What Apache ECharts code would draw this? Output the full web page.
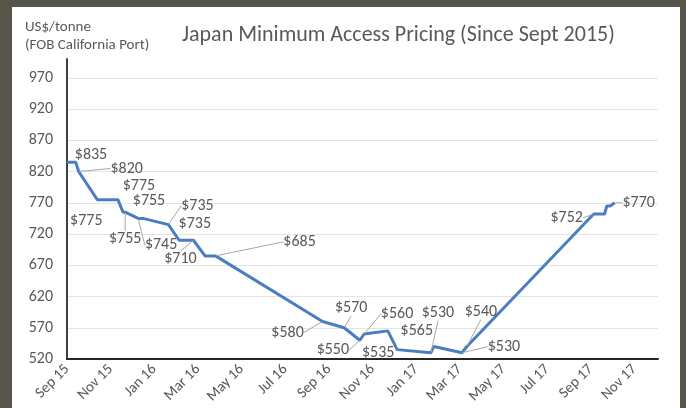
<!DOCTYPE html>
<html><head><meta charset="utf-8">
<script src="https://cdn.jsdelivr.net/npm/echarts@6/dist/echarts.min.js"></script>
<style>
html,body{margin:0;padding:0;background:#57554a;width:686px;height:408px;overflow:hidden}
#chart{position:absolute;left:12px;top:7px;width:668px;height:401px;background:#fff}
</style></head><body><div id="chart"></div>
<script>
// ---- data ----
const dates = ['2015-09-01','2015-09-13','2015-09-17','2015-10-13','2015-11-11','2015-11-18','2015-11-21',
  '2015-12-09','2015-12-16','2016-01-21','2016-01-23','2016-02-05','2016-02-24','2016-03-11','2016-03-26',
  '2016-08-23','2016-09-22','2016-10-14','2016-10-20','2016-11-22','2016-12-05','2017-01-22','2017-01-26',
  '2017-03-04','2017-03-11','2017-09-05','2017-09-20','2017-09-23','2017-09-28','2017-10-04'];
const prices = [835,835,820,775,775,755,755,745,745,735,735,710,710,685,685,
  580,570,550,560,565,535,530,540,530,540,752,752,765,765,770];
const xTickLabels = ['Sep 15','Nov 15','Jan 16','Mar 16','May 16','Jul 16','Sep 16','Nov 16',
  'Jan 17','Mar 17','May 17','Jul 17','Sep 17','Nov 17'];
const titleText = 'Japan Minimum Access Pricing (Since Sept 2015)';
const unitText = 'US$/tonne\n(FOB California Port)';

// ---- label layout (offset of label centre from its point, leader line on/off) ----
const labelLayoutMap = {
  0:[24,-7,0], 2:[48,-3,1], 3:[-11,21,0], 4:[21,-14,0], 5:[26,-11,0], 6:[0,27,1],
  7:[23,27,1], 9:[29,-19,1], 10:[25,-1,0], 12:[-13,19,1], 14:[84,-14,1],
  15:[-35,11,1], 16:[7,-20,1], 17:[-27,10,1], 18:[33,-20,1], 19:[29,0,0], 20:[-19,3,0],
  21:[7,-40,1], 23:[42,-6,1], 24:[14,-35,1], 25:[-27,4,1], 29:[24,0,1]
};

function monthIndex(s){
  const [y,m,d] = s.split('-').map(Number);
  const dim = new Date(y, m, 0).getDate();
  return (y-2015)*12 + (m-9) + (d-1)/dim;
}

const FONT = 'Calibri, Carlito, Lato, sans-serif';
const TXT = '#595959';

const seriesData = dates.map((d,i) => {
  const l = labelLayoutMap[i];
  return {
    value: [monthIndex(d), prices[i]],
    label: { show: !!l },
    labelLine: { show: !!(l && l[2]) }
  };
});

const chart = echarts.init(document.getElementById('chart'), null, {renderer:'canvas'});
chart.setOption({
  animation: false,
  backgroundColor: '#ffffff',
  title: [
    { text: titleText, left: 165, top: 12,
      textStyle: { fontFamily: FONT, fontSize: 22, fontWeight: 'normal', color: TXT } },
    { text: unitText, left: 8, top: 6,
      textStyle: { fontFamily: FONT, fontSize: 15, fontWeight: 'normal', color: TXT, lineHeight: 18 } }
  ],
  grid: { left: 55, right: 22, top: 52, bottom: 49, containLabel: false },
  xAxis: {
    type: 'value', min: 0, max: 27.08, interval: 2,
    axisLine: { show: true, onZero: false, lineStyle: { color: '#262626', width: 2 } },
    axisTick: { show: false },
    splitLine: { show: false },
    axisLabel: {
      rotate: 45, margin: 8, fontFamily: FONT, fontSize: 15, color: TXT,
      showMaxLabel: false,
      formatter: v => { const k = Math.round(v/2); return (Math.abs(v - k*2) < 1e-6 && xTickLabels[k]) ? xTickLabels[k] : ''; }
    }
  },
  yAxis: {
    type: 'value', min: 520, max: 1000, interval: 50,
    axisLine: { show: true, lineStyle: { color: '#404040', width: 2 } },
    axisTick: { show: false },
    splitLine: { show: true, showMaxLine: false, lineStyle: { color: '#e4e4e4', width: 1 } },
    axisLabel: { margin: 14, fontFamily: FONT, fontSize: 16, color: TXT, showMaxLabel: false }
  },
  series: [{
    type: 'line',
    data: seriesData,
    showSymbol: true,
    symbol: 'circle',
    symbolSize: 1,
    itemStyle: { color: 'rgba(0,0,0,0)', borderWidth: 0 },
    lineStyle: { color: '#4a7ebf', width: 3 },
    emphasis: { disabled: true },
    label: {
      position: 'inside', fontFamily: FONT, fontSize: 16, color: TXT,
      formatter: p => '$' + p.value[1]
    },
    labelLine: { lineStyle: { color: '#a6a6a6', width: 1 } },
    labelLayout: p => {
      const l = labelLayoutMap[p.dataIndex];
      return l ? { dx: l[0], dy: l[1] } : {};
    },
    z: 3
  }]
});
</script></body></html>
